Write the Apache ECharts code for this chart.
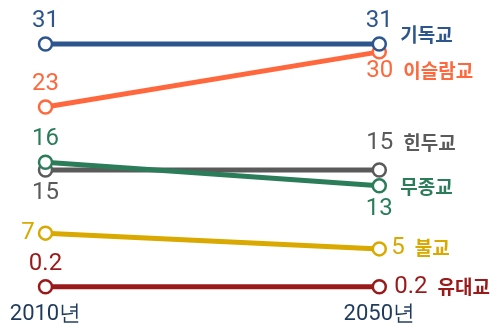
<!DOCTYPE html>
<html>
<head>
<meta charset="utf-8">
<script src="https://cdn.jsdelivr.net/npm/echarts@6/dist/echarts.min.js"></script>
<style>
  html, body { margin: 0; padding: 0; background: #fff; }
  #chart { width: 490px; height: 329px; }
</style>
</head>
<body>
<div id="chart"></div>
<script>
// Religious groups, share of world population (%), 2010 vs 2050
const years = ['2010년', '2050년'];
const religions = ['기독교', '이슬람교', '힌두교', '무종교', '불교', '유대교'];
const share2010 = [31, 23, 15, 16, 7, 0.2];
const share2050 = [31, 30, 15, 13, 5, 0.2];

const palette = {
  '기독교': '#2e568e',
  '이슬람교': '#ff683c',
  '힌두교': '#5a5a5a',
  '무종교': '#2b7d5a',
  '불교': '#d9a900',
  '유대교': '#9a1a1c'
};

// Placement of the value / name labels around each line's endpoints
const labelStyle = {
  '기독교':  { left: 'top',    right: 'top',    endNum: false, endOffset: [13, -9] },
  '이슬람교': { left: 'top',    right: null,     endNum: true,  endOffset: [-21, 19] },
  '힌두교':  { left: 'bottom', right: null,     endNum: true,  endOffset: [-21, -27] },
  '무종교':  { left: 'top',    right: 'bottom', endNum: false, endOffset: [13, 1] },
  '불교':    { left: 'left',   right: null,     endNum: true,  endOffset: [4, -1] },
  '유대교':  { left: 'top',    right: null,     endNum: true,  endOffset: [7, 0] }
};

// Drawing order: later series sit on top where markers overlap
const drawOrder = ['이슬람교', '기독교', '힌두교', '무종교', '불교', '유대교'];

const numFont = { fontFamily: 'Roboto', fontSize: 24 };
const nameFont = { fontFamily: 'Noto Sans CJK KR', fontSize: 19, fontWeight: 'bold' };

const series = drawOrder.map(function (name) {
  const i = religions.indexOf(name);
  const color = palette[name];
  const cfg = labelStyle[name];
  const pt = function (v, pos) {
    return {
      value: v,
      label: pos ? { show: true, position: pos, distance: 3 } : { show: false }
    };
  };
  return {
    name: name,
    type: 'line',
    data: [pt(share2010[i], cfg.left), pt(share2050[i], cfg.right)],
    color: color,
    lineStyle: { width: 5, color: color },
    symbol: 'circle',
    symbolSize: 13,
    itemStyle: { color: '#fff', borderColor: color, borderWidth: 2.5 },
    label: Object.assign({ color: color }, numFont),
    endLabel: {
      show: true,
      offset: cfg.endOffset,
      color: color,
      formatter: function (p) {
        return cfg.endNum ? '{n|' + p.value + '}{k|' + name + '}' : '{k|' + name + '}';
      },
      rich: {
        n: Object.assign({ color: color, padding: [0, 10, 0, 0] }, numFont),
        k: Object.assign({ color: color }, nameFont)
      }
    },
    emphasis: { disabled: true },
    animation: false
  };
});

const chart = echarts.init(document.getElementById('chart'));
chart.setOption({
  animation: false,
  grid: { left: 45.5, right: 110.7, top: 36.1, bottom: 40.7 },
  xAxis: {
    type: 'category',
    data: years,
    boundaryGap: false,
    axisLine: { show: false },
    axisTick: { show: false },
    splitLine: { show: false },
    axisLabel: {
      color: '#1e3a5c',
      fontFamily: 'Roboto',
      fontSize: 22,
      margin: 15
    }
  },
  yAxis: {
    type: 'value',
    min: 0,
    max: 32,
    show: false,
    splitLine: { show: false }
  },
  series: series
});
</script>
</body>
</html>
